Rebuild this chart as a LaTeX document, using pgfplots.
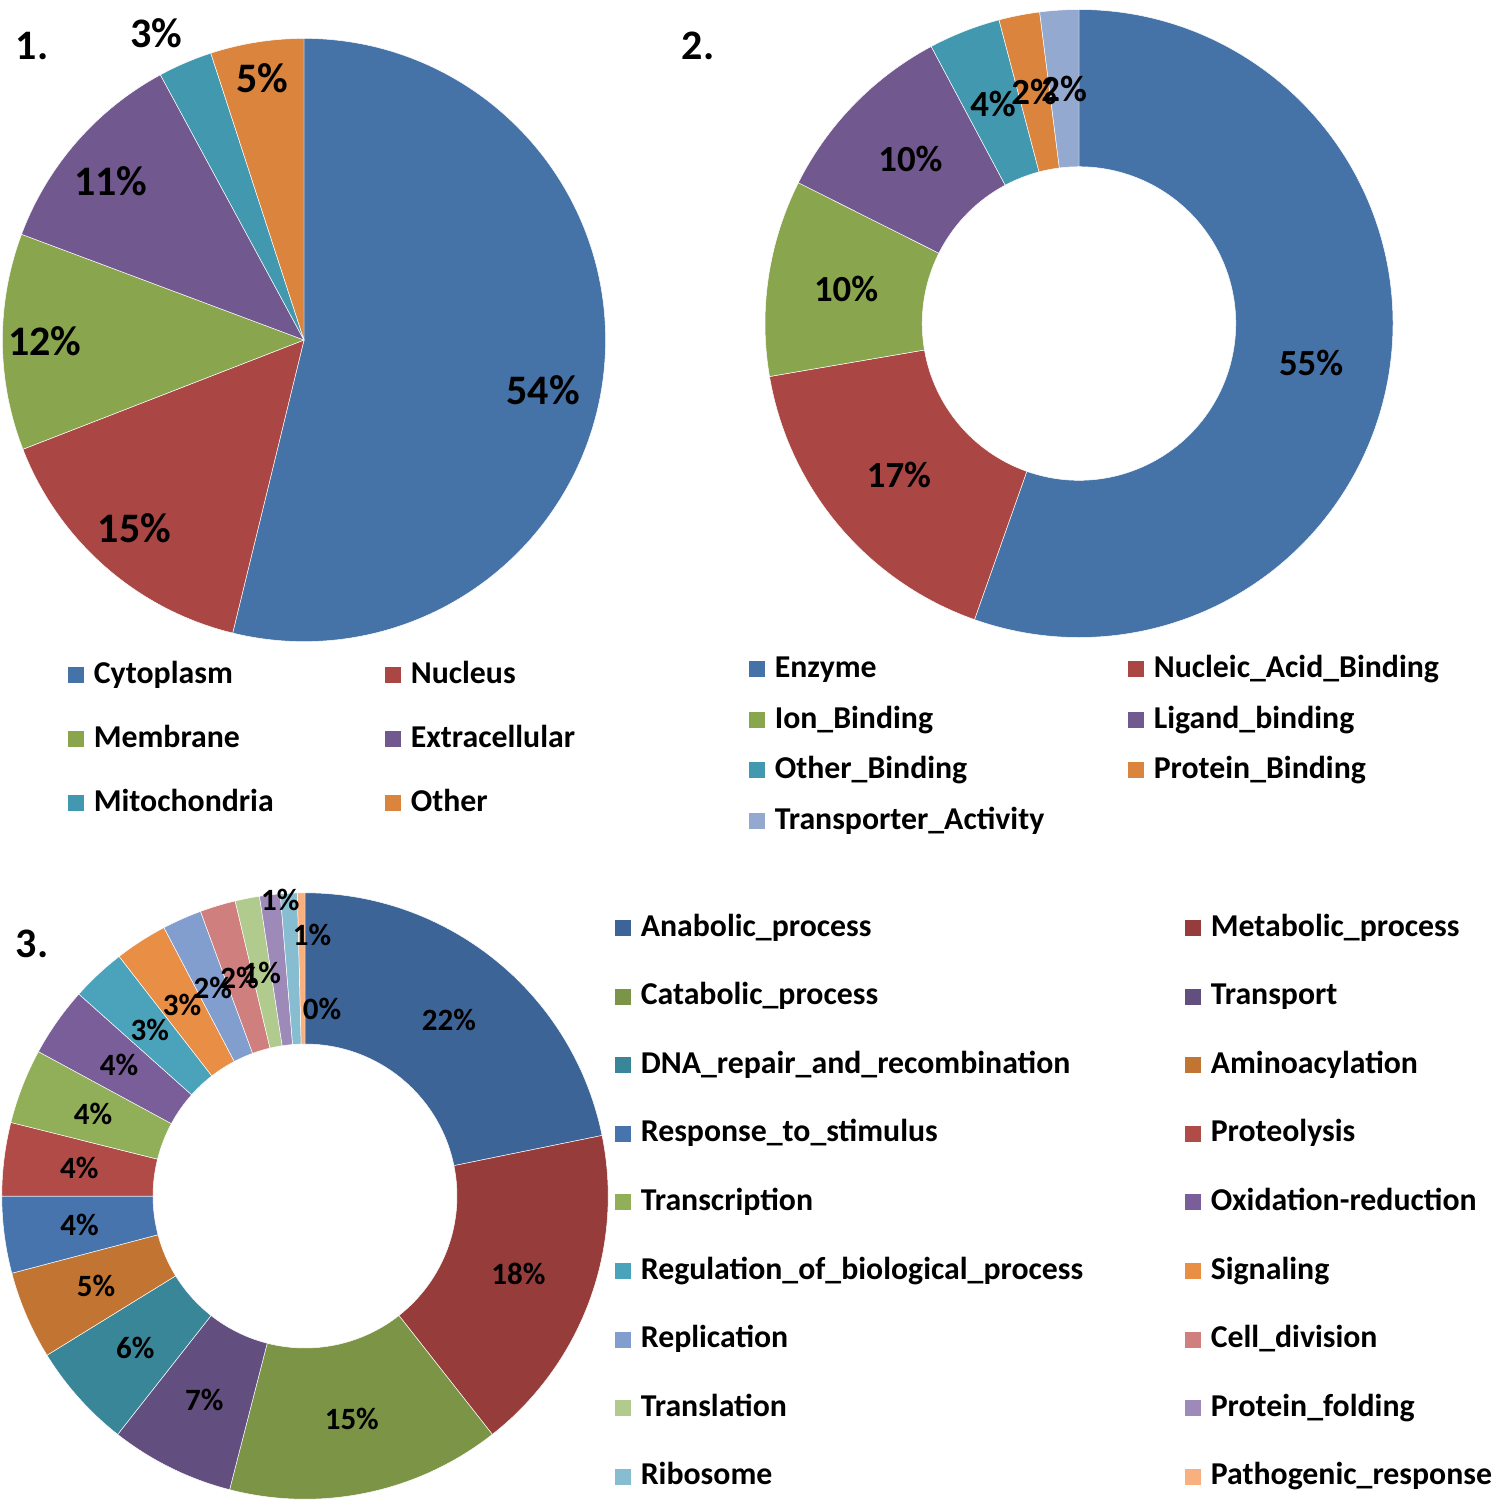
\documentclass[border=0pt]{standalone}
\usepackage{fontspec}
\setmainfont{Carlito}
\usepackage{pgfplots}
\usepackage{pgfplotstable}
\pgfplotsset{compat=1.18}

% palette
\definecolor{p1}{HTML}{4572A7}
\definecolor{p2}{HTML}{AA4643}
\definecolor{p3}{HTML}{89A54E}
\definecolor{p4}{HTML}{71588F}
\definecolor{p5}{HTML}{4198AF}
\definecolor{p6}{HTML}{DB843D}
\definecolor{p7}{HTML}{93A9CF}
\definecolor{d1}{HTML}{3D6496}
\definecolor{d2}{HTML}{963C3A}
\definecolor{d3}{HTML}{7B9445}
\definecolor{d4}{HTML}{634F7F}
\definecolor{d5}{HTML}{398699}
\definecolor{d6}{HTML}{C27533}
\definecolor{d7}{HTML}{4774AC}
\definecolor{d8}{HTML}{B14B48}
\definecolor{d9}{HTML}{90AF58}
\definecolor{d10}{HTML}{7A5E9A}
\definecolor{d11}{HTML}{4AA3BB}
\definecolor{d12}{HTML}{E88E45}
\definecolor{d13}{HTML}{819ECE}
\definecolor{d14}{HTML}{CF807E}
\definecolor{d15}{HTML}{B0CB8D}
\definecolor{d16}{HTML}{9E8AB8}
\definecolor{d17}{HTML}{86BDD0}
\definecolor{d18}{HTML}{F9B07F}

% 1. subcellular location
\pgfplotstableread{
name value ci lr dla
Cytoplasm 53.8 1 0.81 -5.0
Nucleus 15.3 2 0.84 -0.8
Membrane 11.6 3 0.86 0
Extracellular 11.4 4 0.83 1.6
Mitochondria 2.9 5 1.13 2.5
Other 5.0 6 0.88 0
}\location
% 2. molecular function
\pgfplotstableread{
name value ci lr dla
Enzyme 55.4 1 0.75 0
Nucleic_Acid_Binding 16.9 2 0.75 0
Ion_Binding 10.1 3 0.75 0
Ligand_binding 9.8 4 0.75 0
Other_Binding 3.7 5 0.75 0
Protein_Binding 2.1 6 0.75 0
Transporter_Activity 2.0 7 0.75 0
}\molfunc
% 3. biological process
\pgfplotstableread{
name value ci lr dla
Anabolic_process 21.8 1 0.75 0
Metabolic_process 17.6 2 0.75 0
Catabolic_process 14.6 3 0.75 0
Transport 6.6 4 0.75 0
DNA_repair_and_recombination 5.6 5 0.75 0
Aminoacylation 4.7 6 0.75 0
Response_to_stimulus 4.1 7 0.75 0
Proteolysis 3.9 8 0.75 0
Transcription 4.0 9 0.75 0
Oxidation-reduction 3.7 10 0.75 0
Regulation_of_biological_process 2.9 11 0.75 0
Signaling 2.8 12 0.75 0
Replication 2.1 13 0.75 0
Cell_division 1.9 14 0.75 0
Translation 1.3 15 0.75 0
Protein_folding 1.1 16 0.98 -1.9
Ribosome 0.9 17 0.86 -4.6
Pathogenic_response 0.4 18 0.62 -5.9
}\bioproc

\pgfplotstablecreatecol[create col/expr accum={\pgfmathaccuma+\thisrow{value}}{0}]{cum}{\location}
\pgfplotstablecreatecol[create col/expr accum={\pgfmathaccuma+\thisrow{value}}{0}]{cum}{\molfunc}
\pgfplotstablecreatecol[create col/expr accum={\pgfmathaccuma+\thisrow{value}}{0}]{cum}{\bioproc}

% a slice as a plot mark, centred on the data point
% #1 mark name, #2 inner radius (pt), #3 outer radius (pt), #4 colour prefix
\newcommand\declslice[4]{%
  \pgfdeclareplotmark{#1}{%
    \pgfmathsetmacro\aS{90-3.6*(\pcum-\pval)}%
    \pgfmathsetmacro\aE{90-3.6*\pcum}%
    \pgfmathtruncatemacro\ci{round(\pci)}%
    \pgfsetfillcolor{#4\ci}%
    \pgfsetstrokecolor{white}%
    \pgfsetlinewidth{0.12pt}%
    \ifdim#2pt=0pt
      \pgfpathmoveto{\pgfpointorigin}%
    \else
      \pgfpathmoveto{\pgfpointpolar{\aS}{#2pt}}%
    \fi
    \pgfpathlineto{\pgfpointpolar{\aS}{#3pt}}%
    \pgfpatharc{\aS}{\aE}{#3pt}%
    \ifdim#2pt>0pt
      \pgfpathlineto{\pgfpointpolar{\aE}{#2pt}}%
      \pgfpatharc{\aE}{\aS}{#2pt}%
    \fi
    \pgfpathclose
    \pgfusepath{fill,stroke}}}
\newcommand\decllabel[3]{%
  \pgfdeclareplotmark{#1}{%
    \pgfmathsetmacro\aM{90-3.6*(\pcum-\pval/2)+\pdla}%
    \pgfmathsetmacro\rL{\plr*#2}%
    \pgfmathtruncatemacro\lab{round(\pval)}%
    \pgftext[at={\pgfpointpolar{\aM}{\rL pt}}]{\color{black}\fontsize{#3}{#3}\selectfont\bfseries\lab\%}}}

\declslice{sliceA}{0}{75.4}{p}
\declslice{sliceB}{39.2}{78.5}{p}
\declslice{sliceC}{38}{75.8}{d}
\decllabel{labelA}{75.4}{10.5}
\decllabel{labelB}{78.5}{9.2}
\decllabel{labelC}{75.8}{7.75}

\pgfplotsset{pie data/.style={only marks,
  visualization depends on={\thisrow{cum}\as\pcum},
  visualization depends on={\thisrow{value}\as\pval},
  visualization depends on={\thisrow{lr}\as\plr},
  visualization depends on={\thisrow{dla}\as\pdla},
  visualization depends on={\thisrow{ci}\as\pci}}}

\newcommand\legfont{\fontsize{7.95}{9}\selectfont\bfseries}
\newcommand\legentry[4]{%
  \fill[#3] (axis cs:#1,#2) rectangle (axis cs:#1+16,#2-16);
  \node[anchor=base west, inner sep=0pt, font=\legfont] at (axis cs:#1+25,#2) {#4};}

\begin{document}
\begin{tikzpicture}
\begin{axis}[name=ax, hide axis, scale only axis,
    x=0.25pt, y=0.25pt,
    xmin=0, xmax=1512, ymin=0, ymax=1512,
    y dir=reverse, clip=false]

\addplot[pie data, mark=sliceA] table[x expr=304, y expr=340] {\location};
\addplot[pie data, mark=sliceB] table[x expr=1079, y expr=323.5] {\molfunc};
\addplot[pie data, mark=sliceC] table[x expr=305, y expr=1196] {\bioproc};
\addplot[pie data, mark=labelA] table[x expr=304, y expr=340] {\location};
\addplot[pie data, mark=labelB] table[x expr=1079, y expr=323.5] {\molfunc};
\addplot[pie data, mark=labelC] table[x expr=305, y expr=1196] {\bioproc};

\node[anchor=base west, inner sep=0pt, font=\fontsize{10.5}{12}\selectfont\bfseries] at (axis cs:15,59) {1.};
\node[anchor=base west, inner sep=0pt, font=\fontsize{10.5}{12}\selectfont\bfseries] at (axis cs:681,59) {2.};
\node[anchor=base west, inner sep=0pt, font=\fontsize{10.5}{12}\selectfont\bfseries] at (axis cs:15,957) {3.};

\legentry{68}{683}{p1}{Cytoplasm}
\legentry{385}{683}{p2}{Nucleus}
\legentry{68}{747}{p3}{Membrane}
\legentry{385}{747}{p4}{Extracellular}
\legentry{68}{811}{p5}{Mitochondria}
\legentry{385}{811}{p6}{Other}

\legentry{749}{677}{p1}{Enzyme}
\legentry{1128}{677}{p2}{Nucleic\_Acid\_Binding}
\legentry{749}{728}{p3}{Ion\_Binding}
\legentry{1128}{728}{p4}{Ligand\_binding}
\legentry{749}{778}{p5}{Other\_Binding}
\legentry{1128}{778}{p6}{Protein\_Binding}
\legentry{749}{829}{p7}{Transporter\_Activity}

\legentry{615}{936}{d1}{Anabolic\_process}
\legentry{1185}{936}{d2}{Metabolic\_process}
\legentry{615}{1004.6}{d3}{Catabolic\_process}
\legentry{1185}{1004.6}{d4}{Transport}
\legentry{615}{1073.2}{d5}{DNA\_repair\_and\_recombination}
\legentry{1185}{1073.2}{d6}{Aminoacylation}
\legentry{615}{1141.8}{d7}{Response\_to\_stimulus}
\legentry{1185}{1141.8}{d8}{Proteolysis}
\legentry{615}{1210.4}{d9}{Transcription}
\legentry{1185}{1210.4}{d10}{Oxidation-reduction}
\legentry{615}{1279}{d11}{Regulation\_of\_biological\_process}
\legentry{1185}{1279}{d12}{Signaling}
\legentry{615}{1347.6}{d13}{Replication}
\legentry{1185}{1347.6}{d14}{Cell\_division}
\legentry{615}{1416.2}{d15}{Translation}
\legentry{1185}{1416.2}{d16}{Protein\_folding}
\legentry{615}{1484.8}{d17}{Ribosome}
\legentry{1185}{1484.8}{d18}{Pathogenic\_response}
\end{axis}
% the canvas is the axis box; arc control points must not widen it
\pgfresetboundingbox
\useasboundingbox (ax.south west) rectangle (ax.north east);
\end{tikzpicture}
\end{document}
